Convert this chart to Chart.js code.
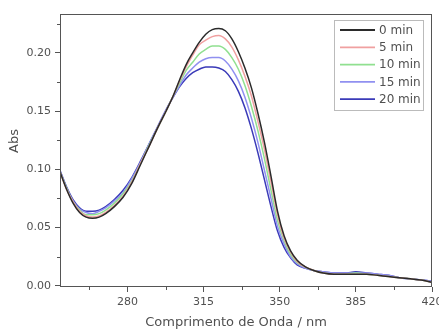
<!DOCTYPE html>
<html>
<head>
<meta charset="utf-8">
<script src="https://cdn.jsdelivr.net/npm/chart.js@4.4.1/dist/chart.umd.min.js"></script>
<style>
  html, body { margin: 0; padding: 0; background: #fff; }
  #chart { display: block; }
</style>
</head>
<body>
<canvas id="chart" width="439" height="331"></canvas>
<script>
(() => {
  'use strict'

  // Wavelengths (nm) and absorbance
  const wavelengths = [249, 252, 255, 258, 261, 264, 267, 270, 274, 278, 282, 286, 290, 294, 298,
    301, 304, 307, 310, 313, 316, 319, 322, 325, 328, 331, 334, 337, 340, 343, 346, 349, 352, 355, 358,
    362, 366, 370, 375, 380, 385, 390, 395, 400, 405, 410, 415, 420];

  const abs0 = [0.098, 0.083, 0.071, 0.063, 0.059, 0.058, 0.059, 0.062, 0.068, 0.076, 0.088, 0.104, 0.120, 0.136, 0.151,
    0.163, 0.177, 0.190, 0.200, 0.209, 0.216, 0.220, 0.221, 0.219, 0.212, 0.201, 0.187, 0.170, 0.148, 0.123, 0.094, 0.064, 0.043, 0.030, 0.022,
    0.016, 0.013, 0.011, 0.010, 0.010, 0.010, 0.010, 0.009, 0.008, 0.007, 0.006, 0.005, 0.003];

  const abs5 = [0.098, 0.083, 0.072, 0.064, 0.060, 0.059, 0.060, 0.063, 0.069, 0.077, 0.089, 0.105, 0.120, 0.136, 0.151,
    0.163, 0.176, 0.188, 0.198, 0.207, 0.211, 0.214, 0.215, 0.212, 0.205, 0.194, 0.180, 0.163, 0.141, 0.117, 0.089, 0.061, 0.041, 0.029, 0.021,
    0.016, 0.013, 0.011, 0.010, 0.010, 0.010, 0.010, 0.009, 0.008, 0.007, 0.006, 0.005, 0.003];

  const abs10 = [0.098, 0.084, 0.072, 0.065, 0.061, 0.061, 0.062, 0.065, 0.071, 0.079, 0.090, 0.105, 0.121, 0.136, 0.151,
    0.163, 0.174, 0.185, 0.192, 0.199, 0.203, 0.206, 0.206, 0.203, 0.196, 0.186, 0.172, 0.154, 0.133, 0.109, 0.082, 0.056, 0.039, 0.027, 0.020,
    0.016, 0.013, 0.011, 0.010, 0.010, 0.011, 0.010, 0.009, 0.008, 0.007, 0.006, 0.005, 0.003];

  const abs15 = [0.099, 0.084, 0.073, 0.066, 0.063, 0.062, 0.064, 0.067, 0.073, 0.080, 0.092, 0.106, 0.122, 0.137, 0.152,
    0.162, 0.172, 0.181, 0.187, 0.192, 0.195, 0.196, 0.196, 0.193, 0.186, 0.176, 0.162, 0.144, 0.123, 0.099, 0.075, 0.051, 0.036, 0.025, 0.019,
    0.015, 0.013, 0.012, 0.011, 0.011, 0.011, 0.011, 0.010, 0.009, 0.007, 0.006, 0.005, 0.004];

  const abs20 = [0.099, 0.085, 0.074, 0.067, 0.064, 0.064, 0.065, 0.068, 0.074, 0.082, 0.093, 0.107, 0.122, 0.137, 0.152,
    0.162, 0.171, 0.178, 0.183, 0.186, 0.188, 0.188, 0.187, 0.184, 0.177, 0.167, 0.153, 0.135, 0.114, 0.091, 0.068, 0.047, 0.033, 0.024, 0.018,
    0.015, 0.013, 0.012, 0.011, 0.011, 0.012, 0.011, 0.010, 0.009, 0.007, 0.006, 0.005, 0.004];

  const seriesLabels = ['0 min', '5 min', '10 min', '15 min', '20 min'];
  const seriesColors = ['#2b2b2b', '#f0a0a0', '#90e090', '#9090f0', '#3a3ab8'];
  const seriesValues = [abs0, abs5, abs10, abs15, abs20];

  const xTicks = [280, 315, 350, 385, 420];
  const xMinor = [262.5, 297.5, 332.5, 367.5, 402.5];
  const yTicks = [0, 0.05, 0.10, 0.15, 0.20];
  const yMinor = [0.025, 0.075, 0.125, 0.175, 0.225];

  const axisColor = '#555';
  const textColor = '#505050';
  const fontFamily = "'DejaVu Sans', sans-serif";

  // Frame, minor ticks, axis titles and legend box
  const decorations = {
    id: 'decorations',
    afterDraw(chart) {
      const { ctx, chartArea: a, scales } = chart;
      ctx.save();
      ctx.strokeStyle = axisColor;
      ctx.lineWidth = 1;
      ctx.strokeRect(a.left + 0.5, a.top + 0.5, a.right - a.left - 1, a.bottom - a.top - 1);

      ctx.beginPath();
      xMinor.forEach(v => {
        const px = Math.round(scales.x.getPixelForValue(v)) + 0.5;
        ctx.moveTo(px, a.bottom);
        ctx.lineTo(px, a.bottom + 3);
      });
      yMinor.forEach(v => {
        const py = Math.round(scales.y.getPixelForValue(v)) + 0.5;
        ctx.moveTo(a.left, py);
        ctx.lineTo(a.left - 3, py);
      });
      ctx.stroke();

      // axis titles
      ctx.fillStyle = textColor;
      ctx.font = `13px ${fontFamily}`;
      ctx.textAlign = 'center';
      ctx.textBaseline = 'middle';
      ctx.fillText('Comprimento de Onda / nm', 236, 323);
      ctx.save();
      ctx.translate(15, 141);
      ctx.rotate(-Math.PI / 2);
      ctx.fillText('Abs', 0, 0);
      ctx.restore();

      // legend
      ctx.fillStyle = '#fff';
      ctx.fillRect(334, 20, 89, 90);
      ctx.strokeStyle = '#bbbbbb';
      ctx.strokeRect(334.5, 20.5, 89, 90);
      ctx.font = `12px ${fontFamily}`;
      ctx.textAlign = 'left';
      chart.data.datasets.forEach((ds, i) => {
        const y = 30 + i * 17.3;
        ctx.strokeStyle = ds.borderColor;
        ctx.lineWidth = 1.8;
        ctx.beginPath();
        ctx.moveTo(340, y);
        ctx.lineTo(375, y);
        ctx.stroke();
        ctx.fillStyle = textColor;
        ctx.fillText(ds.label, 379, y + 0.5);
      });
      ctx.restore();
    }
  };

  new Chart(document.getElementById('chart'), {
    type: 'line',
    data: {
      datasets: seriesLabels.map((label, i) => ({
        label,
        data: wavelengths.map((w, j) => ({ x: w, y: seriesValues[i][j] })),
        borderColor: seriesColors[i],
        borderWidth: 1.5,
        pointRadius: 0,
        fill: false,
        cubicInterpolationMode: 'monotone'
      }))
    },
    options: {
      responsive: false,
      animation: false,
      devicePixelRatio: 1,
      layout: { padding: { top: 14, right: 7, left: 0, bottom: 0 } },
      plugins: {
        legend: { display: false },
        tooltip: { enabled: false }
      },
      scales: {
        x: {
          type: 'linear',
          min: 249,
          max: 420,
          afterBuildTicks: scale => { scale.ticks = xTicks.map(v => ({ value: v })); },
          afterFit: scale => {
            scale.height = 44;
            scale.paddingLeft = 0;
            scale.paddingRight = 0;
          },
          ticks: {
            autoSkip: false,
            maxRotation: 0,
            padding: 4,
            color: textColor,
            font: { family: fontFamily, size: 11 },
            callback: v => String(v)
          },
          grid: { drawOnChartArea: false, drawTicks: true, tickLength: 5, color: axisColor },
          border: { display: false }
        },
        y: {
          min: -0.001,
          max: 0.2334,
          afterBuildTicks: scale => { scale.ticks = yTicks.map(v => ({ value: v })); },
          afterFit: scale => {
            scale.width = 60;
            scale.paddingTop = 0;
            scale.paddingBottom = 0;
          },
          ticks: {
            autoSkip: false,
            padding: 4,
            color: textColor,
            font: { family: fontFamily, size: 11 },
            callback: v => v.toFixed(2)
          },
          grid: { drawOnChartArea: false, drawTicks: true, tickLength: 5, color: axisColor },
          border: { display: false }
        }
      }
    },
    plugins: [decorations]
  });
})();
</script>
</body>
</html>
